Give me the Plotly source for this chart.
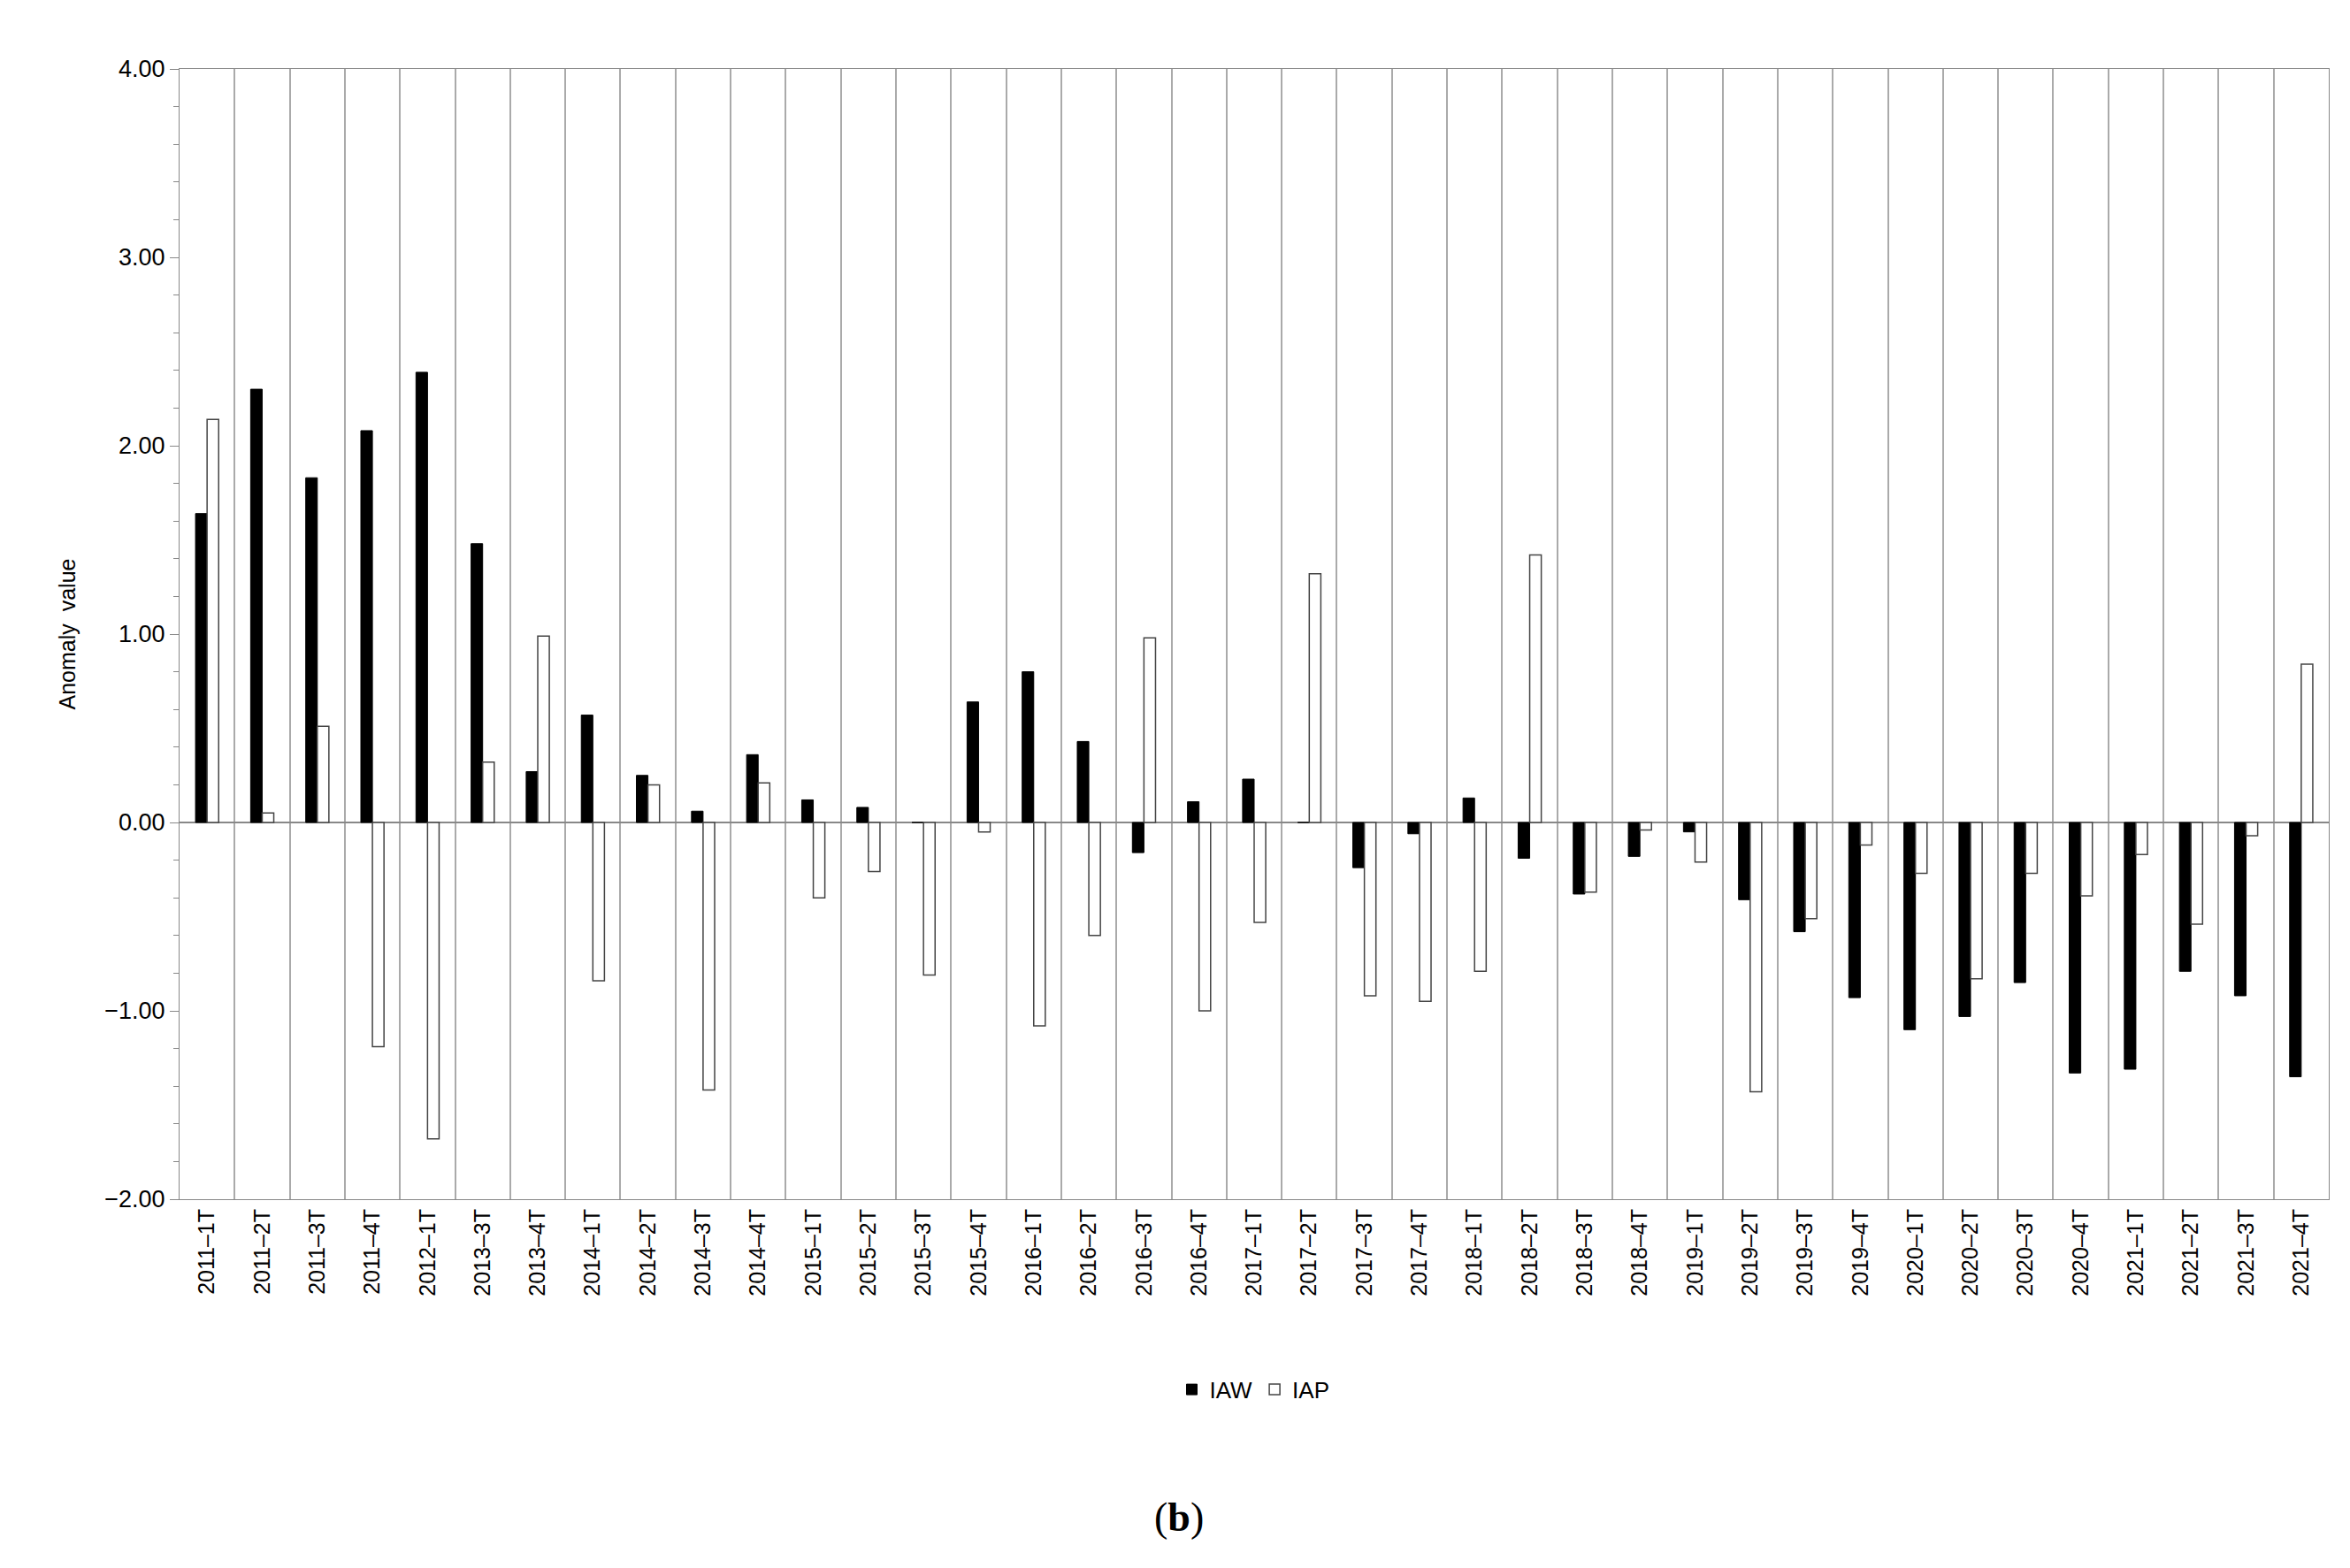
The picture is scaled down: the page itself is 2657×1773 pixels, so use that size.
import plotly.graph_objects as go

categories = ["2011–1T","2011–2T","2011–3T","2011–4T","2012–1T","2013–3T","2013–4T","2014–1T","2014–2T","2014–3T",
              "2014–4T","2015–1T","2015–2T","2015–3T","2015–4T","2016–1T","2016–2T","2016–3T","2016–4T","2017–1T",
              "2017–2T","2017–3T","2017–4T","2018–1T","2018–2T","2018–3T","2018–4T","2019–1T","2019–2T","2019–3T",
              "2019–4T","2020–1T","2020–2T","2020–3T","2020–4T","2021–1T","2021–2T","2021–3T","2021–4T"]
iaw = [1.64,2.30,1.83,2.08,2.39,1.48,0.27,0.57,0.25,0.06,
       0.36,0.12,0.08,0.0,0.64,0.80,0.43,-0.16,0.11,0.23,
       0.0,-0.24,-0.06,0.13,-0.19,-0.38,-0.18,-0.05,-0.41,-0.58,
       -0.93,-1.10,-1.03,-0.85,-1.33,-1.31,-0.79,-0.92,-1.35]
iap = [2.14,0.05,0.51,-1.19,-1.68,0.32,0.99,-0.84,0.20,-1.42,
       0.21,-0.40,-0.26,-0.81,-0.05,-1.08,-0.60,0.98,-1.00,-0.53,
       1.32,-0.92,-0.95,-0.79,1.42,-0.37,-0.04,-0.21,-1.43,-0.51,
       -0.12,-0.27,-0.83,-0.27,-0.39,-0.17,-0.54,-0.07,0.84]

font = "Liberation Sans"
fig = go.Figure()
fig.add_bar(x=categories, y=iaw, name="IAW", marker=dict(color="black", line=dict(color="black", width=1)))
fig.add_bar(x=categories, y=iap, name="IAP", marker=dict(color="white", line=dict(color="#444", width=1.5)))
fig.update_layout(
    width=2657, height=1773, paper_bgcolor="white", plot_bgcolor="white",
    barmode="group", bargap=0.58, bargroupgap=0,
    margin=dict(l=195, r=32, t=70, b=425),
    font=dict(family=font, size=25, color="black"),
    legend=dict(orientation="h", x=0.5, xanchor="center", y=-0.15, yanchor="top",
                font=dict(size=26), itemwidth=30, traceorder="normal"),
    xaxis=dict(type="category", tickson="boundaries", showgrid=True, gridcolor="#aaaaaa", gridwidth=1.5,
               tickangle=-90, ticks="", showline=True, linecolor="#888", mirror=True,
               tickfont=dict(size=25), range=[-0.5, len(categories)-0.5]),
    yaxis=dict(range=[-2, 4], dtick=1, tickformat=".2f", showgrid=False, zeroline=True,
               zerolinecolor="#888", zerolinewidth=1.5, showline=True, linecolor="#888", mirror=True,
               ticks="outside", ticklen=10, tickcolor="#888",
               minor=dict(dtick=0.2, ticks="outside", ticklen=6, tickcolor="#888"),
               title=dict(text="Anomaly  value", font=dict(size=25), standoff=25),
               tickfont=dict(size=27)),
)
fig.add_annotation(text="(<b>b</b>)", xref="paper", yref="paper", x=0.465, y=-0.281,
                   showarrow=False, font=dict(family="Liberation Serif", size=46), yanchor="middle")
fig.write_html("out.html")
